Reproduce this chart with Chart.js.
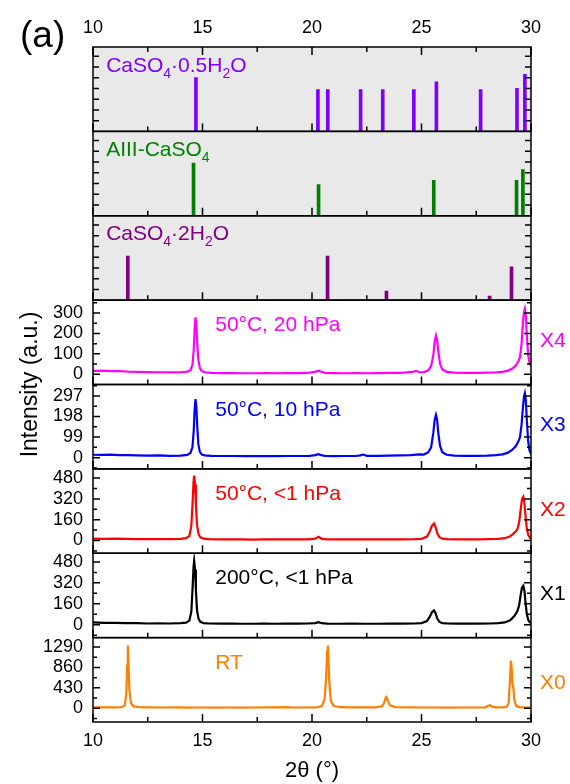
<!DOCTYPE html>
<html>
<head>
<meta charset="utf-8">
<script src="https://cdn.jsdelivr.net/npm/chart.js@4.4.0/dist/chart.umd.min.js"></script>
<style>
  html, body { margin: 0; padding: 0; background: #fff; }
  canvas { display: block; }
</style>
</head>
<body>
<canvas id="xrdChart" width="570" height="784"></canvas>
<script>
// reference stick patterns (2theta, relative intensity)
const hemiPos = [14.70, 20.27, 20.72, 22.22, 23.23, 24.65, 25.68, 27.70, 29.36, 29.72];
const hemiInt = [50, 39, 39, 39, 39, 39, 46, 39, 40, 53];
const anhPos = [14.59, 20.30, 25.56, 29.34, 29.63];
const anhInt = [49, 29, 33, 33, 43];
const gypPos = [11.59, 20.71, 23.40, 28.11, 29.11];
const gypInt = [41, 41, 8.4, 3.7, 31];

// measured patterns
const x4Angle = [10.0,10.4,10.8,11.2,11.6,12.0,12.5,13.0,13.5,14.0,14.3,14.45,14.54,14.6,14.64,14.68,14.72,14.76,14.81,14.88,14.97,15.1,15.4,15.9,16.4,16.9,17.4,17.9,18.4,18.9,19.4,19.9,20.15,20.3,20.42,20.6,21.0,21.5,22.0,22.5,23.0,23.5,24.0,24.3,24.6,24.75,24.9,25.1,25.3,25.44,25.54,25.6,25.66,25.71,25.77,25.85,25.95,26.15,26.5,27.0,27.5,28.0,28.4,28.7,28.95,29.15,29.3,29.42,29.5,29.57,29.63,29.68,29.72,29.76,29.81,29.87,29.93,30.0];
const x4Int = [16,18,15,16,13,12,11,10,9,10,13,20,45,120,220,279,240,150,70,30,16,10,7,6,6,5,5,6,5,6,6,8,12,18,12,7,6,5,6,5,6,7,7,9,12,16,10,11,18,40,95,160,190,170,110,50,24,12,8,7,7,8,9,12,18,28,42,62,85,150,250,305,321,290,190,95,55,40];

const x3Angle = [10.0,10.4,10.8,11.2,11.6,12.0,12.5,13.0,13.5,14.0,14.3,14.45,14.54,14.6,14.64,14.68,14.72,14.76,14.81,14.88,14.97,15.1,15.4,15.9,16.4,16.9,17.4,17.9,18.4,18.9,19.4,19.9,20.15,20.3,20.42,20.6,21.0,21.5,22.0,22.2,22.35,22.5,23.0,23.5,24.0,24.5,24.9,25.1,25.3,25.44,25.54,25.6,25.66,25.71,25.77,25.85,25.95,26.15,26.5,27.0,27.5,28.0,28.4,28.7,28.95,29.15,29.3,29.42,29.5,29.57,29.63,29.68,29.72,29.76,29.81,29.87,29.93,30.0];
const x3Int = [14,13,15,12,12,11,10,11,9,10,13,22,50,130,230,282,245,150,65,28,15,11,9,8,8,7,7,8,7,8,8,9,12,17,12,8,7,8,8,11,15,9,9,10,11,12,16,15,25,50,120,180,206,185,115,55,26,14,10,9,9,10,12,16,24,38,55,77,100,160,240,295,311,280,180,80,35,18];

const x2Angle = [10.0,10.5,11.0,11.5,12.0,12.5,13.0,13.5,14.0,14.25,14.4,14.49,14.55,14.59,14.62,14.66,14.7,14.75,14.82,14.9,15.05,15.3,15.8,16.3,16.8,17.3,17.8,18.3,18.8,19.3,19.8,20.15,20.3,20.45,20.7,21.2,21.8,22.4,23.0,23.6,24.2,24.7,25.0,25.25,25.38,25.48,25.57,25.64,25.72,25.82,25.95,26.2,26.6,27.1,27.6,28.1,28.5,28.8,29.05,29.25,29.38,29.46,29.53,29.59,29.65,29.7,29.75,29.81,29.88,29.95,30.0];
const x2Int = [15,13,14,12,11,10,11,10,13,18,35,110,300,450,500,430,270,120,50,24,14,10,9,8,8,7,8,8,9,8,9,14,28,13,9,8,8,8,8,9,9,10,13,30,70,115,131,105,55,25,14,10,9,9,9,10,12,18,32,60,88,140,240,320,336,290,190,90,40,22,15];

const x1Angle = [10.0,10.5,11.0,11.5,12.0,12.5,13.0,13.5,14.0,14.25,14.4,14.49,14.55,14.59,14.62,14.66,14.7,14.75,14.82,14.9,15.05,15.3,15.8,16.3,16.8,17.3,17.8,18.3,18.8,19.3,19.8,20.15,20.3,20.45,20.7,21.2,21.8,22.4,23.0,23.6,24.2,24.7,25.0,25.25,25.38,25.48,25.57,25.64,25.72,25.82,25.95,26.2,26.6,27.1,27.6,28.1,28.5,28.8,29.05,29.25,29.38,29.46,29.53,29.59,29.65,29.7,29.75,29.81,29.88,29.95,30.0];
const x1Int = [18,15,14,12,12,10,11,10,12,16,32,100,290,440,488,420,260,110,45,22,13,10,9,9,8,8,9,8,9,9,10,13,20,12,9,8,9,8,8,9,9,10,13,28,62,98,110,90,48,22,13,10,9,9,9,10,12,18,35,68,105,150,230,285,298,260,170,80,35,18,12];

const x0Angle = [10.0,10.5,11.0,11.3,11.45,11.52,11.56,11.59,11.62,11.66,11.73,11.85,12.1,12.6,13.2,13.8,14.4,15.0,15.6,16.2,16.8,17.4,18.0,18.6,18.8,19.0,19.6,20.2,20.45,20.58,20.65,20.69,20.72,20.75,20.79,20.86,21.0,21.3,21.8,22.4,22.9,23.2,23.3,23.36,23.4,23.46,23.56,23.8,24.4,25.0,25.6,26.2,26.8,27.4,27.9,28.05,28.12,28.2,28.4,28.7,28.9,28.98,29.04,29.08,29.11,29.15,29.19,29.24,29.32,29.45,29.7,30.0];
const x0Int = [20,18,17,22,60,300,900,1324,1000,400,110,40,22,18,16,17,15,16,15,16,15,16,17,18,25,18,16,17,45,200,700,1200,1324,1100,550,150,45,22,18,17,20,40,120,220,238,160,60,24,17,16,16,15,16,16,20,50,68,40,20,17,30,120,600,1005,900,520,450,180,50,24,18,16];

// axis ticks
const xTickLabels = [10, 15, 20, 25, 30];
const xMinorTicks = [12.5, 17.5, 22.5, 27.5];
const x4Ticks = [0, 100, 200, 300];
const x3Ticks = [0, 99, 198, 297];
const x2Ticks = [0, 160, 320, 480];
const x1Ticks = [0, 160, 320, 480];
const x0Ticks = [0, 430, 860, 1290];
const stickTicks = [10, 20, 30, 40, 50, 60, 70];

const FONT = "'Liberation Sans', Arial, sans-serif";

function pts(xs, ys) {
    return xs.map((x, i) => ({x: x, y: ys[i]}));
}

// panels from top to bottom
const panels = [
    {id: 'yHemi', stick: true, min: 0, max: 78.5, ticks: stickTicks, label: 'CaSO_4·0.5H_2O', color: '#8000ff'},
    {id: 'yAnh', stick: true, min: 0, max: 78.5, ticks: stickTicks, label: 'AIII-CaSO_4', color: '#008000'},
    {id: 'yGyp', stick: true, min: 0, max: 78.5, ticks: stickTicks, label: 'CaSO_4·2H_2O', color: '#800080'},
    {id: 'yX4', min: -50, max: 363, ticks: x4Ticks, label: '50°C, 20 hPa', tag: 'X4', color: '#ff00ff'},
    {id: 'yX3', min: -54, max: 352, ticks: x3Ticks, label: '50°C, 10 hPa', tag: 'X3', color: '#0000ff'},
    {id: 'yX2', min: -98, max: 551, ticks: x2Ticks, label: '50°C, <1 hPa', tag: 'X2', color: '#ff0000'},
    {id: 'yX1', min: -98, max: 546, ticks: x1Ticks, label: '200°C, <1 hPa', tag: 'X1', color: '#000000'},
    {id: 'yX0', min: -290, max: 1490, ticks: x0Ticks, label: 'RT', tag: 'X0', color: '#ff7f00'}
];

const tickFont = {family: FONT, size: 18};

const scales = {
    x: {
        type: 'linear', position: 'bottom', min: 10, max: 30, offset: false,
        grid: {display: false, drawTicks: false, offset: false},
        border: {display: false},
        afterBuildTicks: s => { s.ticks = xTickLabels.map(v => ({value: v})); },
        ticks: {font: tickFont, color: '#000', padding: 8, maxRotation: 0, autoSkip: false},
        title: {display: true, text: '2θ (°)', color: '#000', font: {family: FONT, size: 22}, padding: {top: 0, bottom: 0}},
        afterFit: s => { s.height = 62; }
    },
    x2: {
        type: 'linear', position: 'top', min: 10, max: 30, offset: false,
        grid: {display: false, drawTicks: false, offset: false},
        border: {display: false},
        afterBuildTicks: s => { s.ticks = xTickLabels.map(v => ({value: v})); },
        ticks: {font: tickFont, color: '#000', padding: 8, maxRotation: 0, autoSkip: false},
        afterFit: s => { s.height = 47; }
    }
};

// stacked y axes, defined bottom first
for (const p of panels.slice().reverse()) {
    scales[p.id] = {
        type: 'linear', position: 'left', stack: 'panels', stackWeight: 1,
        min: p.min, max: p.max,
        grid: {display: false, drawTicks: false},
        border: {display: false},
        afterBuildTicks: s => { s.ticks = p.ticks.map(v => ({value: v})); },
        ticks: {
            display: !p.stick, font: tickFont, color: '#000', padding: 10, autoSkip: false,
            callback: v => String(v)
        },
        afterFit: s => { s.width = 93; }
    };
}

const stickSet = (pos, ints, axis, color) => ({
    type: 'bar', data: pts(pos, ints), yAxisID: axis, xAxisID: 'x',
    backgroundColor: color, barThickness: 3, grouped: false
});
const lineSet = (xs, ys, axis, color) => ({
    type: 'line', data: pts(xs, ys), yAxisID: axis, xAxisID: 'x',
    borderColor: color, borderWidth: 2.2, pointRadius: 0, tension: 0
});

function drawFormula(ctx, text, x, y, color) {
    ctx.fillStyle = color;
    ctx.textBaseline = 'alphabetic';
    ctx.textAlign = 'left';
    let cx = x;
    for (let i = 0; i < text.length; i++) {
        let ch = text[i];
        let sub = false;
        if (ch === '_') { sub = true; ch = text[++i]; }
        ctx.font = (sub ? '14px ' : '21px ') + FONT;
        ctx.fillText(ch, cx, sub ? y + 6 : y);
        cx += ctx.measureText(ch).width;
    }
}

const panelFrame = {
    id: 'panelFrame',
    beforeDatasetsDraw(chart) {
        const {ctx, chartArea: a} = chart;
        ctx.save();
        ctx.fillStyle = '#e9e9e9';
        for (const p of panels) {
            if (!p.stick) continue;
            const s = chart.scales[p.id];
            ctx.fillRect(a.left, s.top, a.right - a.left, s.bottom - s.top);
        }
        ctx.restore();
    },
    afterDatasetsDraw(chart) {
        const {ctx, chartArea: a} = chart;
        const xs = chart.scales.x;
        ctx.save();
        ctx.strokeStyle = '#000';
        ctx.lineWidth = 1.5;
        ctx.beginPath();
        panels.forEach((p, k) => {
            const s = chart.scales[p.id];
            // x ticks on the panel bottom (and the top of the first panel)
            for (const v of xTickLabels.concat(xMinorTicks)) {
                const px = xs.getPixelForValue(v);
                const len = xTickLabels.includes(v) ? 8 : 5;
                ctx.moveTo(px, s.bottom); ctx.lineTo(px, s.bottom - len);
                if (k === 0) { ctx.moveTo(px, s.top); ctx.lineTo(px, s.top + len); }
            }
            // y ticks, left and right, pointing inward
            const marks = [];
            if (p.stick) {
                p.ticks.forEach(v => marks.push([v, 6]));
            } else {
                const step = p.ticks[1] - p.ticks[0];
                p.ticks.forEach(v => marks.push([v, 7]));
                for (let v = -step / 2; v < p.max; v += step) {
                    if (v > p.min + 1) marks.push([v, 4]);
                }
            }
            for (const [v, len] of marks) {
                const py = s.getPixelForValue(v);
                ctx.moveTo(a.left, py); ctx.lineTo(a.left + len, py);
                ctx.moveTo(a.right, py); ctx.lineTo(a.right - len, py);
            }
        });
        ctx.stroke();
        // panel frames
        for (const p of panels) {
            const s = chart.scales[p.id];
            ctx.strokeRect(a.left, s.top, a.right - a.left, s.bottom - s.top);
        }

        // panel labels
        const labelX = xs.getPixelForValue(10.6);
        const condX = xs.getPixelForValue(15.58);
        for (const p of panels) {
            const s = chart.scales[p.id];
            if (p.stick) {
                drawFormula(ctx, p.label, labelX, s.top + 24.5, p.color);
            } else {
                ctx.fillStyle = p.color;
                ctx.font = '21px ' + FONT;
                ctx.textAlign = 'left';
                ctx.textBaseline = 'alphabetic';
                ctx.fillText(p.label, condX, s.top + 31);
                ctx.textBaseline = 'middle';
                ctx.fillText(p.tag, a.right + 9, s.top + (p.tag === 'X0' ? 46 : 41));
            }
        }

        // y title and panel letter
        ctx.fillStyle = '#000';
        ctx.font = '23px ' + FONT;
        ctx.textAlign = 'center';
        ctx.textBaseline = 'alphabetic';
        ctx.translate(37, (a.top + a.bottom) / 2);
        ctx.rotate(-Math.PI / 2);
        ctx.fillText('Intensity (a.u.)', 0, 0);
        ctx.setTransform(1, 0, 0, 1, 0, 0);
        ctx.font = '37px ' + FONT;
        ctx.textAlign = 'left';
        ctx.fillText('(a)', 20, 47);
        ctx.restore();
    }
};

new Chart(document.getElementById('xrdChart'), {
    type: 'line',
    data: {
        datasets: [
            stickSet(hemiPos, hemiInt, 'yHemi', '#8000ff'),
            stickSet(anhPos, anhInt, 'yAnh', '#008000'),
            stickSet(gypPos, gypInt, 'yGyp', '#800080'),
            lineSet(x4Angle, x4Int, 'yX4', '#ff00ff'),
            lineSet(x3Angle, x3Int, 'yX3', '#0000ff'),
            lineSet(x2Angle, x2Int, 'yX2', '#ff0000'),
            lineSet(x1Angle, x1Int, 'yX1', '#000000'),
            lineSet(x0Angle, x0Int, 'yX0', '#ff7f00')
        ]
    },
    options: {
        responsive: false,
        animation: false,
        devicePixelRatio: 1,
        layout: {padding: {left: 0, right: 39, top: 0, bottom: 0}},
        plugins: {legend: {display: false}, tooltip: {enabled: false}},
        scales: scales
    },
    plugins: [panelFrame]
});
</script>
</body>
</html>
